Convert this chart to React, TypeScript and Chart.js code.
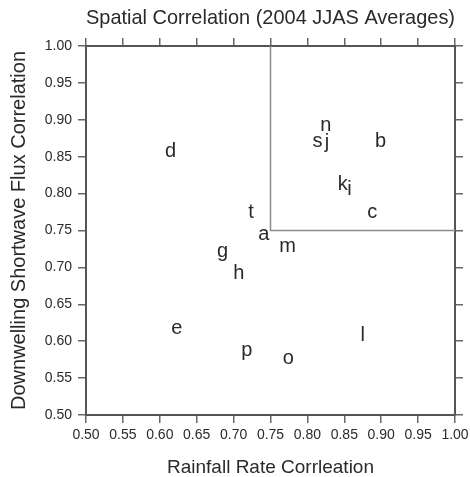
import React, { useEffect, useRef } from "react";
import { Chart, registerables } from "chart.js";

Chart.register(...registerables);

const models = ["a", "b", "c", "d", "e", "f", "g", "h", "i", "j", "k", "l", "m", "n", "o", "p", "s", "t"];
const rainCorr = [0.741, 0.899, 0.888, 0.6145, 0.623, 0.496, 0.685, 0.707, 0.857, 0.8266, 0.848, 0.875, 0.773, 0.825, 0.774, 0.718, 0.8137, 0.7236];
const swCorr = [0.745, 0.8706, 0.774, 0.857, 0.617, 0.735, 0.721, 0.692, 0.805, 0.869, 0.812, 0.608, 0.728, 0.8925, 0.577, 0.587, 0.8706, 0.775];

// Highlight box: vertical at x=0.75 from y=0.75 to 1.00, horizontal at y=0.75 from x=0.75 to 1.00
const boxX = [0.75, 1.0];
const boxY = [0.75, 1.0];

const axisMin = 0.5;
const axisMax = 1.0;
const axisStep = 0.05;

const FONT = '"Liberation Sans", Arial, Helvetica, sans-serif';
const TEXT = "#2a2a2a";
const FRAME = "#555555";

const boxPlugin = {
  id: "boxLines",
  beforeDatasetsDraw(chart: any) {
    const xs = chart.scales.x;
    const ys = chart.scales.y;
    const ctx = chart.ctx;
    ctx.save();
    ctx.strokeStyle = "#8c8c8c";
    ctx.lineWidth = 1.5;
    ctx.beginPath();
    ctx.moveTo(xs.getPixelForValue(boxX[0]), ys.getPixelForValue(boxY[1]));
    ctx.lineTo(xs.getPixelForValue(boxX[0]), ys.getPixelForValue(boxY[0]));
    ctx.lineTo(xs.getPixelForValue(boxX[1]), ys.getPixelForValue(boxY[0]));
    ctx.stroke();
    ctx.restore();
  },
};

const letterPlugin = {
  id: "letters",
  afterDatasetsDraw(chart: any) {
    const meta = chart.getDatasetMeta(0);
    const ctx = chart.ctx;
    const a = chart.chartArea;
    ctx.save();
    ctx.beginPath();
    ctx.rect(a.left, a.top, a.right - a.left, a.bottom - a.top);
    ctx.clip();
    ctx.font = `20px ${FONT}`;
    ctx.fillStyle = TEXT;
    ctx.textAlign = "center";
    ctx.textBaseline = "middle";
    meta.data.forEach((el: any, i: number) => {
      ctx.fillText(models[i], el.x, el.y);
    });
    ctx.restore();
  },
};

function axis(position: string, showLabels: boolean, size: number, title?: any) {
  return {
    type: "linear",
    position,
    min: axisMin,
    max: axisMax,
    afterFit(scale: any) {
      if (position === "left" || position === "right") {
        scale.width = size;
        scale.paddingTop = 0;
        scale.paddingBottom = 0;
      } else {
        scale.height = size;
        scale.paddingLeft = 0;
        scale.paddingRight = 0;
      }
    },
    ticks: {
      stepSize: axisStep,
      display: showLabels,
      font: { family: FONT, size: 14 },
      color: TEXT,
      padding: position === "left" ? 6 : 4,
      maxRotation: 0,
      autoSkip: false,
      callback: (v: any) => Number(v).toFixed(2),
    },
    grid: {
      drawOnChartArea: false,
      drawTicks: true,
      tickLength: 8,
      tickColor: "#666666",
      lineWidth: 1.5,
    },
    border: { display: true, color: FRAME, width: 2 },
    title: title || { display: false },
  };
}

export default function App() {
  const ref = useRef<HTMLCanvasElement | null>(null);

  useEffect(() => {
    if (!ref.current) return;
    const chart = new Chart(ref.current, {
      type: "scatter",
      data: {
        datasets: [
          {
            label: "models",
            data: rainCorr.map((x, i) => ({ x, y: swCorr[i] })),
            pointRadius: 0,
            pointHoverRadius: 0,
          },
        ],
      },
      options: {
        responsive: false,
        animation: false,
        events: [],
        layout: { padding: 0 },
        plugins: {
          legend: { display: false },
          tooltip: { enabled: false },
          title: {
            display: true,
            text: "Spatial Correlation (2004 JJAS Averages)",
            fullSize: false,
            color: TEXT,
            font: { family: FONT, size: 21, weight: "normal", lineHeight: 1.2 },
            padding: { top: 6, bottom: 4.8 },
          },
        },
        scales: {
          x: axis("bottom", true, 62, {
            display: true,
            text: "Rainfall Rate Corrleation",
            color: TEXT,
            font: { family: FONT, size: 19, lineHeight: 1 },
            padding: { top: 0, bottom: 0 },
          }),
          x2: axis("top", false, 10),
          y: axis("left", true, 86, {
            display: true,
            text: "Downwelling Shortwave Flux Correlation",
            color: TEXT,
            font: { family: FONT, size: 20, lineHeight: 1.2 },
            padding: { top: 7, bottom: 0 },
          }),
          y2: axis("right", false, 15),
        },
      } as any,
      plugins: [boxPlugin, letterPlugin],
    });
    return () => chart.destroy();
  }, []);

  return (
    <div style={{ position: "absolute", left: 0, top: 0, width: 470, height: 477, background: "#fff" }}>
      <canvas ref={ref} width={470} height={477} />
    </div>
  );
}
